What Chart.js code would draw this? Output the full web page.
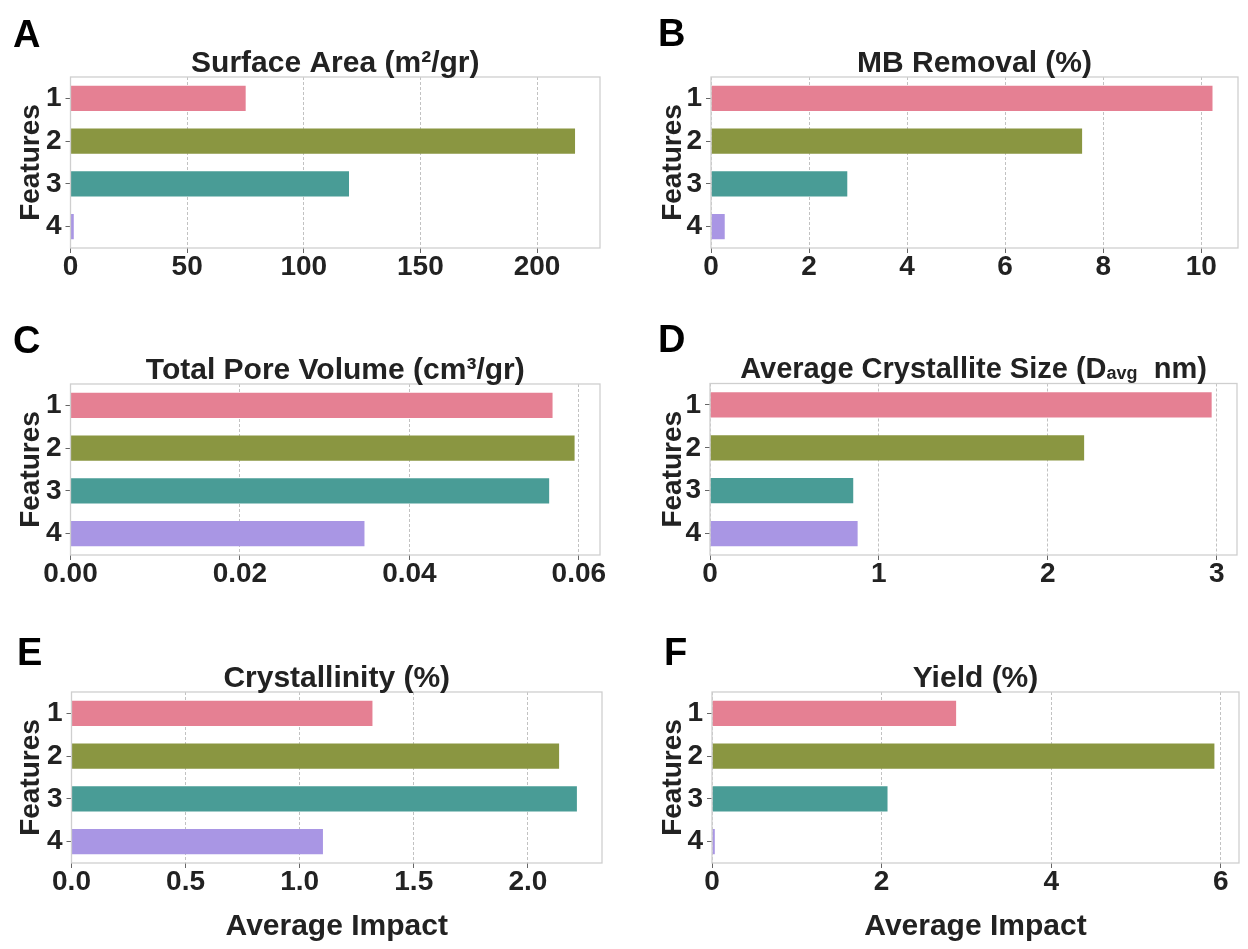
<!DOCTYPE html>
<html>
<head>
<meta charset="utf-8">
<script src="https://cdn.jsdelivr.net/npm/chart.js@4.4.0/dist/chart.umd.min.js"></script>
<style>
  html, body { margin: 0; padding: 0; background: #ffffff; }
  #fig { position: relative; width: 1248px; height: 949px; overflow: hidden; background: #ffffff; }
  #fig canvas { position: absolute; }
</style>
</head>
<body>
<div id="fig"></div>
<script>
// ---- data -------------------------------------------------------------
const features = ['1', '2', '3', '4'];
const featureColors = ['#e58093', '#8a9641', '#499c96', '#a996e4'];

const surfaceArea     = [75.1, 216.3, 119.4, 1.4];
const mbRemoval       = [10.23, 7.57, 2.78, 0.28];
const poreVolume      = [0.0569, 0.0595, 0.0565, 0.0347];
const crystalliteSize = [2.97, 2.215, 0.848, 0.874];
const crystallinity   = [1.319, 2.137, 2.215, 1.102];
const yieldImpact     = [2.879, 5.925, 2.07, 0.033];

const panelLetters = ['A', 'B', 'C', 'D', 'E', 'F'];
const panelTitles = [
  [{ text: 'Surface Area (m²/gr)' }],
  [{ text: 'MB Removal (%)' }],
  [{ text: 'Total Pore Volume (cm³/gr)' }],
  [{ text: 'Average Crystallite Size (D' }, { text: 'avg', sub: true }, { text: '  nm)' }],
  [{ text: 'Crystallinity (%)' }],
  [{ text: 'Yield (%)' }]
];
const panelValues = [surfaceArea, mbRemoval, poreVolume, crystalliteSize, crystallinity, yieldImpact];
const axisMax   = [227, 10.75, 0.0625, 3.12, 2.325, 6.215];
const tickStep  = [50, 2, 0.02, 1, 0.5, 2];
const tickDigits = [0, 0, 2, 0, 1, 0];
const yAxisTitle = 'Features';
const xAxisTitle = 'Average Impact';

// ---- layout (canvas boxes and plot rectangles, page pixels) -------------
const layout = [
  { canvas: [0, 0, 624, 300],     plot: [70.5, 77, 600, 248],    letter: [13, 47],  titleSize: 30, xTitle: false },
  { canvas: [642, 0, 606, 300],   plot: [711, 77, 1238, 248],    letter: [658, 46], titleSize: 30, xTitle: false },
  { canvas: [0, 300, 624, 310],   plot: [70.5, 384, 600, 555],   letter: [13, 353], titleSize: 30, xTitle: false },
  { canvas: [642, 300, 606, 310], plot: [710, 383.5, 1237, 555], letter: [658, 352], titleSize: 29, xTitle: false },
  { canvas: [0, 610, 624, 339],   plot: [71.5, 692, 602, 863],   letter: [17, 665], titleSize: 30, xTitle: true },
  { canvas: [642, 610, 606, 339], plot: [712, 692, 1239, 863],   letter: [664, 665], titleSize: 30, xTitle: true }
];

const FONT = "'Liberation Sans', Arial, Helvetica, sans-serif";
const TEXT = '#222222';
Chart.defaults.font.family = FONT;

// Draws the plot frame, the panel title (with optional subscript) and the panel letter.
const panelDecor = {
  id: 'panelDecor',
  afterDraw(chart, args, opts) {
    const { ctx, chartArea: a } = chart;
    ctx.save();
    ctx.strokeStyle = '#cfcfcf';
    ctx.lineWidth = 1.3;
    ctx.strokeRect(a.left, a.top, a.right - a.left, a.bottom - a.top);

    // title, centered over the plot
    const mainFont = 'bold ' + opts.size + 'px ' + FONT;
    const subFont = 'bold ' + Math.round(opts.size * 0.63) + 'px ' + FONT;
    let width = 0;
    opts.title.forEach(seg => {
      ctx.font = seg.sub ? subFont : mainFont;
      width += ctx.measureText(seg.text).width;
    });
    let x = (a.left + a.right) / 2 - width / 2;
    const baseline = a.top - 5.3;
    ctx.fillStyle = TEXT;
    ctx.textAlign = 'left';
    ctx.textBaseline = 'alphabetic';
    opts.title.forEach(seg => {
      ctx.font = seg.sub ? subFont : mainFont;
      ctx.fillText(seg.text, x, baseline + (seg.sub ? 1 : 0));
      x += ctx.measureText(seg.text).width;
    });

    // panel letter
    ctx.font = 'bold 38px ' + FONT;
    ctx.fillStyle = '#000000';
    ctx.fillText(opts.letter, opts.letterX, opts.letterY);
    ctx.restore();
  }
};

const fig = document.getElementById('fig');

layout.forEach((L, i) => {
  const [cx, cy, cw, ch] = L.canvas;
  const [pl, pt, pr, pb] = L.plot;
  const canvas = document.createElement('canvas');
  canvas.width = cw;
  canvas.height = ch;
  canvas.style.left = cx + 'px';
  canvas.style.top = cy + 'px';
  canvas.style.width = cw + 'px';
  canvas.style.height = ch + 'px';
  fig.appendChild(canvas);

  const plotLeft = pl - cx, plotTop = pt - cy, plotRight = pr - cx, plotBottom = pb - cy;
  const digits = tickDigits[i];

  new Chart(canvas, {
    type: 'bar',
    data: {
      labels: features,
      datasets: [{
        data: panelValues[i],
        backgroundColor: featureColors,
        borderWidth: 0,
        barPercentage: 0.59,
        categoryPercentage: 1
      }]
    },
    options: {
      indexAxis: 'y',
      responsive: false,
      animation: false,
      devicePixelRatio: 1,
      layout: { padding: { left: 0, top: plotTop, right: cw - plotRight, bottom: 0 } },
      plugins: {
        legend: { display: false },
        tooltip: { enabled: false },
        title: { display: false },
        panelDecor: {
          title: panelTitles[i],
          size: L.titleSize,
          letter: panelLetters[i],
          letterX: L.letter[0] - cx,
          letterY: L.letter[1] - cy
        }
      },
      scales: {
        x: {
          type: 'linear',
          min: 0,
          max: axisMax[i],
          afterFit(s) { s.height = ch - plotBottom; },
          border: { display: false, dash: [3, 2] },
          grid: {
            color: 'rgba(0,0,0,0.3)',
            lineWidth: 0.8,
            drawTicks: true,
            tickLength: 5,
            tickColor: '#666666',
            tickWidth: 1,
            tickBorderDash: []
          },
          ticks: {
            stepSize: tickStep[i],
            includeBounds: false,
            maxRotation: 0,
            padding: 0,
            color: TEXT,
            font: { size: 28, weight: 'bold', lineHeight: 1 },
            callback: v => Number(v).toFixed(digits)
          },
          title: {
            display: L.xTitle,
            text: xAxisTitle,
            color: TEXT,
            font: { size: 30, weight: 'bold', lineHeight: 1 },
            padding: { top: 0, bottom: 7 }
          }
        },
        y: {
          type: 'category',
          afterFit(s) { s.width = plotLeft; },
          border: { display: false },
          grid: {
            offset: false,
            drawOnChartArea: false,
            drawTicks: true,
            tickLength: 5,
            tickColor: '#666666',
            tickWidth: 1
          },
          ticks: {
            padding: 4,
            color: TEXT,
            font: { size: 28, weight: 'bold', lineHeight: 1 }
          },
          title: {
            display: true,
            text: yAxisTitle,
            color: TEXT,
            font: { size: 28, weight: 'bold', lineHeight: 1 },
            padding: { top: 17, bottom: 0 }
          }
        }
      }
    },
    plugins: [panelDecor]
  });
});
</script>
</body>
</html>
